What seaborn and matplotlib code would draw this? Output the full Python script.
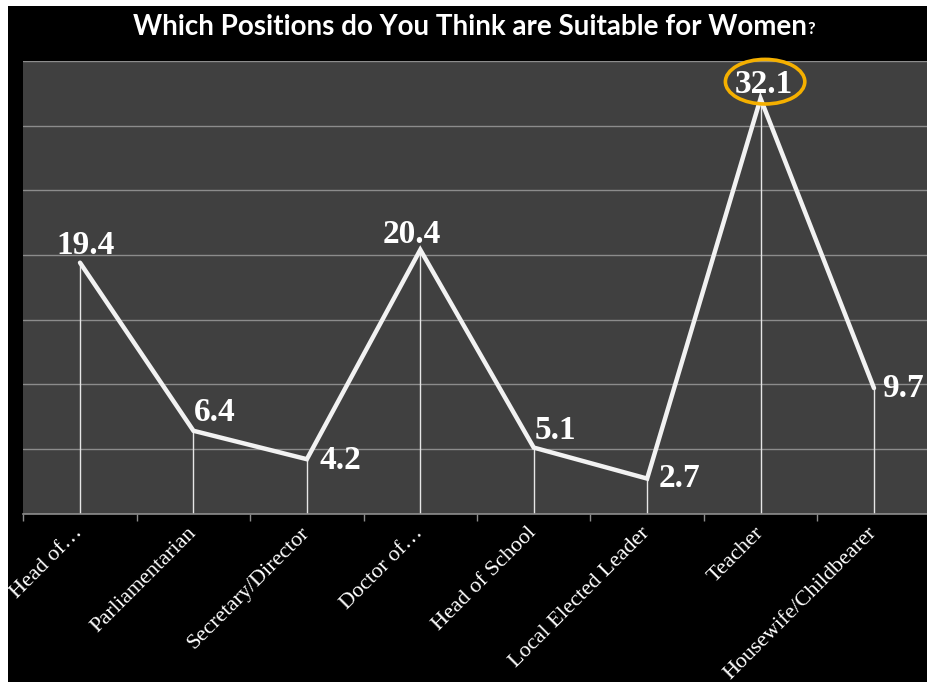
import matplotlib
matplotlib.use("Agg")
import matplotlib.pyplot as plt
from matplotlib.patches import Ellipse, Rectangle
import seaborn as sns
import pandas as pd

categories = ["Head of…", "Parliamentarian", "Secretary/Director", "Doctor of…",
              "Head of School", "Local Elected Leader", "Teacher", "Housewife/Childbearer"]
values = [19.4, 6.4, 4.2, 20.4, 5.1, 2.7, 32.1, 9.7]
# label offsets (points): dx, dy, ha, va
label_pos = [(4, 1, "center", "bottom"), (0, 2, "left", "bottom"), (9, -1, "left", "center"),
             (-6, 0, "center", "bottom"), (1, 1, "left", "bottom"), (8, 0, "left", "center"),
             (2, -1, "center", "bottom"), (6, 0, "left", "center")]

sns.set_theme(style="dark")
W, H = 928, 682
fig = plt.figure(figsize=(W / 100, H / 100), dpi=100, facecolor="white")
fig.patches.append(Rectangle((8 / W, 0), 1, 1 - 6 / H, transform=fig.transFigure,
                             facecolor="black", edgecolor="none", zorder=-10))

left, right, top, bottom = 23.3, 930.7, 61, 513.5
ax = fig.add_axes([left / W, 1 - bottom / H, (right - left) / W, (bottom - top) / H])
ax.set_facecolor("#404040")

df = pd.DataFrame({"cat": range(len(categories)), "val": values})
ax.vlines(df["cat"], 0, df["val"], color="#e6e6e6", linewidth=1, zorder=2)
sns.lineplot(data=df, x="cat", y="val", ax=ax, color="#f2f2f2", linewidth=3.2,
             zorder=3, solid_joinstyle="miter", sort=False)

ax.set_xlim(-0.5, len(categories) - 0.5)
ax.set_ylim(0, 35)
ax.set_yticks(range(0, 36, 5))
ax.set_yticklabels([])
ax.tick_params(axis="y", length=0)
ax.grid(axis="y", color="#8c8c8c", linewidth=1)
ax.grid(axis="x", visible=False)
for s in ["left", "right", "top"]:
    ax.spines[s].set_visible(False)
ax.spines["bottom"].set_color("#8c8c8c")
ax.spines["bottom"].set_linewidth(1.2)

ax.set_xticks(range(len(categories)))
ax.set_xticklabels(categories, rotation=45, ha="right", va="center", rotation_mode="anchor",
                   fontsize=16, color="white", family="Liberation Serif")
ax.set_xticks([i - 0.5 for i in range(len(categories) + 1)], minor=True)
ax.tick_params(axis="x", which="major", length=0, pad=12)
ax.tick_params(axis="x", which="minor", length=5, color="#8c8c8c", width=1, bottom=True)
ax.set_xlabel("")
ax.set_ylabel("")

for i, (v, (dx, dy, ha, va)) in enumerate(zip(values, label_pos)):
    ax.annotate(f"{v}", (i, v), xytext=(dx, dy), textcoords="offset points",
                ha=ha, va=va, fontsize=24, fontweight="bold", color="white",
                family="Liberation Serif", zorder=5, annotation_clip=False)

ax.add_patch(Ellipse((6.04, 33.4), 0.70, 3.45, fill=False, edgecolor="#f5b000",
                     linewidth=2.6, clip_on=False, zorder=6))

t = fig.text(133 / W, 1 - 27 / H, "Which Positions do You Think are Suitable for Women",
             ha="left", va="center", fontsize=20, fontweight="bold", color="white",
             family="Lato")
fig.canvas.draw()
bb = t.get_window_extent()
fig.text((bb.x1 + 1) / W, bb.y0 / H + 0.004, "?", ha="left", va="bottom", fontsize=12,
         fontweight="bold", color="white", family="Lato")

fig.savefig("out.png", dpi=100, facecolor=fig.get_facecolor())
